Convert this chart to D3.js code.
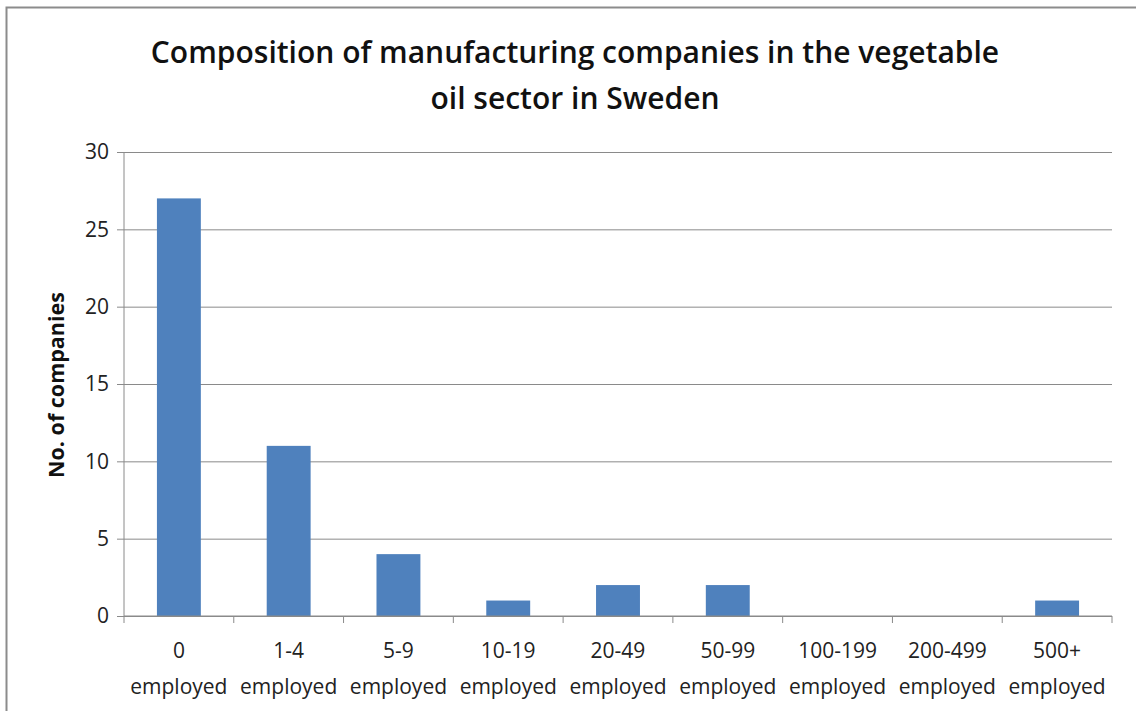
<!DOCTYPE html>
<html>
<head>
<meta charset="utf-8">
<script src="https://cdn.jsdelivr.net/npm/d3@7"></script>
<style>
  body { margin: 0; background: #fff; }
  svg { display: block; font-family: "Open Sans", sans-serif; }
  .axis text { fill: #222; }
</style>
</head>
<body>
<svg id="chart" width="1136" height="711"></svg>
<script>
const categories = ["0", "1-4", "5-9", "10-19", "20-49", "50-99", "100-199", "200-499", "500+"];
const companies = [27, 11, 4, 1, 2, 2, 0, 0, 1];
const yTicks = [0, 5, 10, 15, 20, 25, 30];

const data = categories.map((c, i) => ({ cat: c, value: companies[i] }));

var svg = d3.select("#chart"),
  margin = { top: 152, right: 24, bottom: 95, left: 124 },
  width = +svg.attr("width") - margin.left - margin.right,
  height = +svg.attr("height") - margin.top - margin.bottom;

// chart frame
svg.append("rect")
  .attr("x", 6.5).attr("y", 7.5)
  .attr("width", 1140).attr("height", 720)
  .attr("fill", "none")
  .attr("stroke", "#8c8c8c")
  .attr("stroke-width", 2);

svg.append("text")
  .attr("x", 575).attr("y", 63)
  .attr("text-anchor", "middle")
  .attr("font-size", 30)
  .attr("font-weight", 600)
  .attr("fill", "#111")
  .selectAll("tspan")
  .data(["Composition of manufacturing companies in the vegetable", "oil sector in Sweden"])
  .enter().append("tspan")
  .attr("x", 575)
  .attr("dy", (d, i) => i ? 46 : 0)
  .text(d => d);

var x = d3.scaleBand().domain(categories).range([0, width]).paddingInner(0.6).paddingOuter(0.3),
  xb = d3.scaleBand().domain(categories).range([0, width]),
  y = d3.scaleLinear().domain([0, 30]).range([height, 0]);

var g = svg.append("g").attr("transform", `translate(${margin.left},${margin.top})`);

// gridlines + y axis
g.append("g")
  .attr("class", "axis axis--y")
  .call(d3.axisLeft(y).tickValues(yTicks).tickSize(-width).tickPadding(15))
  .call(a => a.select(".domain").remove())
  .call(a => a.selectAll(".tick line").attr("stroke", "#8a8a8a").attr("x1", -7))
  .call(a => a.selectAll(".tick text").attr("font-size", 21).attr("font-family", "Open Sans"));

g.append("line")
  .attr("x1", 0).attr("x2", 0).attr("y1", 0).attr("y2", height)
  .attr("stroke", "#8a8a8a");

g.selectAll(".bar")
  .data(data)
  .enter().append("rect")
  .attr("class", "bar")
  .attr("x", d => x(d.cat))
  .attr("y", d => y(d.value))
  .attr("width", x.bandwidth())
  .attr("height", d => height - y(d.value))
  .attr("fill", "#4f81bd");

// category axis
var xAxis = g.append("g")
  .attr("class", "axis axis--x")
  .attr("transform", `translate(0,${height})`);

xAxis.append("line")
  .attr("x1", 0).attr("x2", width)
  .attr("stroke", "#8a8a8a");

xAxis.selectAll(".sep")
  .data(categories.concat([null]))
  .enter().append("line")
  .attr("x1", (d, i) => i * xb.step())
  .attr("x2", (d, i) => i * xb.step())
  .attr("y1", 0).attr("y2", 7)
  .attr("stroke", "#8a8a8a");

var labels = xAxis.selectAll(".lbl")
  .data(categories)
  .enter().append("text")
  .attr("class", "lbl")
  .attr("text-anchor", "middle")
  .attr("font-size", 21)
  .attr("fill", "#222");

labels.append("tspan")
  .attr("x", d => xb(d) + xb.bandwidth() / 2)
  .attr("y", 42)
  .text(d => d);
labels.append("tspan")
  .attr("x", d => xb(d) + xb.bandwidth() / 2)
  .attr("y", 78)
  .text("employed");

svg.append("text")
  .attr("transform", `translate(64,${margin.top + height / 2 + 1}) rotate(-90)`)
  .attr("text-anchor", "middle")
  .attr("font-size", 21.5)
  .attr("font-weight", 700)
  .attr("fill", "#111")
  .text("No. of companies");
</script>
</body>
</html>
